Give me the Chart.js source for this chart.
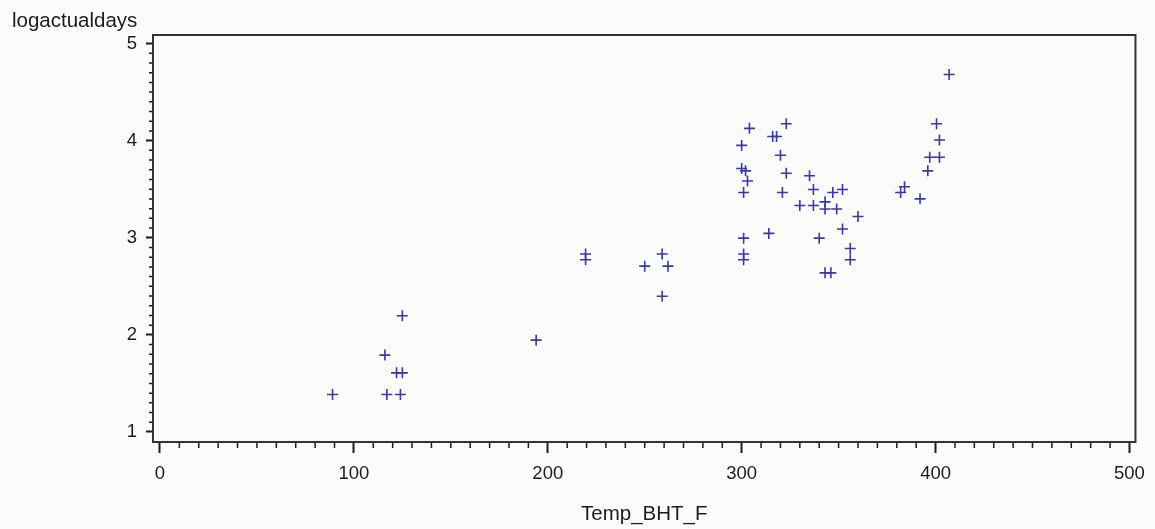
<!DOCTYPE html>
<html>
<head>
<meta charset="utf-8">
<script src="https://cdn.jsdelivr.net/npm/chart.js@4.4.0/dist/chart.umd.min.js"></script>
<style>
  html, body { margin: 0; padding: 0; background: #f9fcf8; }
  #wrap { width: 1155px; height: 529px; }
</style>
</head>
<body>
<div id="wrap"><canvas id="c" width="1155" height="529"></canvas></div>
<script>
// ---- data ----
const tempBHT = [
  89, 117, 124, 116, 122, 125, 125, 194,
  219.5, 219.5, 250, 259, 262, 259,
  304, 323, 316, 318, 300, 320, 300, 302, 323, 335, 303, 301, 321, 337, 347, 352,
  330, 337, 343, 343, 349, 360, 352, 301, 314, 340, 301, 301, 356, 356, 343, 346,
  407, 400.5, 402, 397, 402, 396, 384, 382, 392
];
const logActualDays = [
  1.386, 1.386, 1.386, 1.792, 1.609, 1.609, 2.197, 1.946,
  2.833, 2.773, 2.708, 2.833, 2.708, 2.398,
  4.127, 4.174, 4.043, 4.043, 3.951, 3.850, 3.714, 3.689, 3.664, 3.638, 3.584, 3.466, 3.466, 3.497, 3.466, 3.497,
  3.332, 3.332, 3.370, 3.296, 3.296, 3.219, 3.091, 2.996, 3.045, 2.996, 2.833, 2.773, 2.890, 2.773, 2.639, 2.639,
  4.682, 4.174, 4.007, 3.829, 3.829, 3.689, 3.526, 3.466, 3.401
];
const xTickValues = [0, 100, 200, 300, 400, 500];
const yTickValues = [1, 2, 3, 4, 5];
const xTitle = 'Temp_BHT_F';
const yTitle = 'logactualdays';

// ---- styling ----
const FONT = 'Liberation Sans, Arial, sans-serif';
const INK = '#1c1c1c';
const MARK = '#3b34b4';

const points = tempBHT.map((x, i) => ({ x: x, y: logActualDays[i] }));

const frameAndMinor = {
  id: 'frameAndMinor',
  afterDraw(chart) {
    const { ctx, chartArea: a, scales } = chart;
    const xs = scales.x, ys = scales.y;
    ctx.save();
    ctx.strokeStyle = INK;
    ctx.lineWidth = 1.5;
    ctx.beginPath();
    for (let k = 0; k <= 50; k++) {
      if (k % 10 === 0) continue;
      const px = xs.getPixelForValue(k * 10);
      ctx.moveTo(px, a.bottom);
      ctx.lineTo(px, a.bottom + 6);
    }
    for (let k = 10; k <= 50; k++) {
      if (k % 10 === 0) continue;
      const py = ys.getPixelForValue(k / 10);
      ctx.moveTo(a.left, py);
      ctx.lineTo(a.left - 4, py);
    }
    ctx.stroke();
    ctx.lineWidth = 2;
    ctx.strokeStyle = '#333';
    ctx.strokeRect(a.left, a.top, a.right - a.left, a.bottom - a.top);
    ctx.restore();
  }
};

new Chart(document.getElementById('c'), {
  type: 'scatter',
  data: {
    datasets: [{
      data: points,
      pointStyle: 'cross',
      pointRadius: 5.5,
      pointHoverRadius: 5.5,
      borderColor: MARK,
      backgroundColor: MARK,
      borderWidth: 1.6
    }]
  },
  options: {
    responsive: false,
    animation: false,
    events: [],
    layout: { padding: { left: 12, right: 18, top: 0, bottom: 0 } },
    plugins: {
      legend: { display: false },
      tooltip: { enabled: false },
      title: {
        display: true,
        text: yTitle,
        align: 'start',
        color: INK,
        font: { family: FONT, size: 20.5, weight: 'normal', lineHeight: 1.2 },
        padding: { top: 9, bottom: 1.4 }
      }
    },
    scales: {
      x: {
        type: 'linear',
        min: -3.6,
        max: 503.1,
        afterBuildTicks: (s) => { s.ticks = xTickValues.map(v => ({ value: v })); },
        afterFit: (s) => { s.height = 87; },
        grid: { drawOnChartArea: false, tickLength: 11, tickWidth: 2, tickColor: INK },
        border: { display: true, color: '#333', width: 2 },
        ticks: { color: INK, padding: 10, maxRotation: 0, font: { family: FONT, size: 18.5 } },
        title: {
          display: true, text: xTitle, color: INK,
          font: { family: FONT, size: 20.5, lineHeight: 1.2 },
          padding: { top: 0, bottom: 1.9 }
        }
      },
      y: {
        type: 'linear',
        min: 0.897,
        max: 5.088,
        afterBuildTicks: (s) => { s.ticks = yTickValues.map(v => ({ value: v })); },
        afterFit: (s) => { s.width = 141; },
        grid: { drawOnChartArea: false, tickLength: 7, tickWidth: 2, tickColor: INK },
        border: { display: true, color: '#333', width: 2 },
        ticks: { color: INK, padding: 9, font: { family: FONT, size: 18.5 } }
      }
    }
  },
  plugins: [frameAndMinor]
});
</script>
</body>
</html>
